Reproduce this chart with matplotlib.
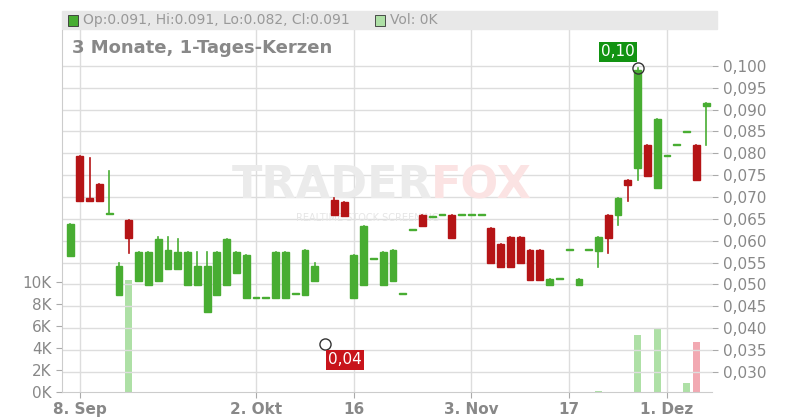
import matplotlib
matplotlib.use("Agg")
import matplotlib.pyplot as plt
from matplotlib.patches import Rectangle
import numpy as np

# trading-day index (0 = 8 Sep), open, high, low, close
idx = list(range(-1, 25)) + list(range(26, 65))
opens = [0.0566,0.0794,0.0698,0.0730,0.0662,0.0477,0.0648,0.0507,0.0498,0.0507,0.0536,0.0536,0.0498,0.0498,0.0436,0.0477,0.0498,0.0527,0.0468,0.0469,0.0469,0.0468,0.0468,0.0478,0.0477,0.0507,
         0.0694,0.0689,0.0468,0.0498,0.0558,0.0498,0.0507,0.0478,0.0624,0.0659,0.0654,0.0659,0.0659,0.0659,0.0659,0.0659,0.0629,0.0593,0.0609,0.0609,0.0579,0.0579,0.0498,0.0512,0.0578,0.0498,0.0578,0.0577,0.0659,0.0658,0.0739,0.0767,0.0819,0.0721,0.0793,0.0818,0.0848,0.0819,0.0909]
closes = [0.0639,0.0692,0.0692,0.0692,0.0662,0.0543,0.0607,0.0575,0.0575,0.0604,0.0579,0.0575,0.0575,0.0543,0.0543,0.0575,0.0604,0.0575,0.0568,0.0469,0.0469,0.0575,0.0575,0.0478,0.0579,0.0543,
          0.0658,0.0656,0.0568,0.0634,0.0558,0.0575,0.0579,0.0478,0.0624,0.0633,0.0654,0.0659,0.0607,0.0659,0.0659,0.0659,0.0548,0.0541,0.0541,0.0548,0.0511,0.0511,0.0512,0.0512,0.0578,0.0512,0.0578,0.0609,0.0607,0.0698,0.0728,0.0991,0.0747,0.0879,0.0793,0.0818,0.0848,0.0738,0.0914]
highs = [0.0639,0.0794,0.0790,0.0730,0.0760,0.0549,0.0648,0.0575,0.0575,0.0609,0.0609,0.0604,0.0575,0.0575,0.0575,0.0575,0.0604,0.0575,0.0568,0.0469,0.0469,0.0575,0.0575,0.0478,0.0579,0.0549,
         0.0698,0.0689,0.0568,0.0634,0.0558,0.0575,0.0579,0.0478,0.0624,0.0659,0.0654,0.0659,0.0659,0.0659,0.0659,0.0659,0.0629,0.0593,0.0609,0.0609,0.0579,0.0579,0.0512,0.0512,0.0578,0.0512,0.0578,0.0609,0.0659,0.0698,0.0739,0.0995,0.0819,0.0879,0.0793,0.0818,0.0848,0.0819,0.0914]
lows = [0.0566,0.0692,0.0692,0.0692,0.0662,0.0477,0.0573,0.0507,0.0498,0.0507,0.0536,0.0536,0.0498,0.0498,0.0436,0.0477,0.0498,0.0527,0.0468,0.0469,0.0469,0.0468,0.0468,0.0478,0.0477,0.0507,
        0.0658,0.0656,0.0468,0.0498,0.0558,0.0498,0.0507,0.0478,0.0624,0.0633,0.0654,0.0659,0.0607,0.0659,0.0659,0.0659,0.0548,0.0541,0.0541,0.0548,0.0511,0.0511,0.0498,0.0512,0.0578,0.0498,0.0578,0.0541,0.0573,0.0636,0.0692,0.0740,0.0747,0.0721,0.0793,0.0818,0.0848,0.0738,0.0818]
vol_idx = [5, 53, 57, 59, 62, 63]
vol_vals = [10200, 100, 5200, 5800, 800, 4500]
vol_up = [True, True, True, True, True, False]
tick_pos = [0, 18, 28, 40, 50, 60]
tick_labels = ["8. Sep", "2. Okt", "16", "3. Nov", "17", "1. Dez"]
price_ticks = [0.030,0.035,0.040,0.045,0.050,0.055,0.060,0.065,0.070,0.075,0.080,0.085,0.090,0.095,0.100]
vol_ticks = [0,2000,4000,6000,8000,10000]

GREEN = "#48ad32"; RED = "#b51416"
fig = plt.figure(figsize=(8,4.2), dpi=100)
L, R, B, T = 62/800, 712/800, 28/420, 390/420
ax = fig.add_axes([L, B, R-L, T-B])
ax2 = ax.twinx()
ax.set_xlim(-1.83, 64.6)
ax.set_ylim(0.0254, 0.1082)
for a in (ax, ax2):
    for s in a.spines.values(): s.set_visible(False)
ax.spines['left'].set_visible(True); ax.spines['left'].set_color("#cccccc")
ax.spines['bottom'].set_visible(True); ax.spines['bottom'].set_color("#cccccc")
for p in price_ticks:
    ax.axhline(p, color="#dddddd", lw=1, zorder=0)
for t in tick_pos:
    ax.axvline(t, color="#dddddd", lw=1, zorder=0)

ax2.set_ylim(0, 32900)
ax2.set_yticks(vol_ticks)
ax2.set_yticklabels([f"{v//1000}K" for v in vol_ticks], color="#888888", fontsize=11)
ax2.yaxis.tick_left()
ax2.tick_params(axis='y', length=4, color="#aaaaaa")
for i, v, up in zip(vol_idx, vol_vals, vol_up):
    ax2.bar(i, v, width=0.7, color="#aee0a6" if up else "#f2a9b2", zorder=1)

ax.yaxis.tick_right()
ax.set_yticks(price_ticks)
ax.set_yticklabels([f"{p:.3f}".replace(".", ",") for p in price_ticks], color="#888888", fontsize=11)
ax.tick_params(axis='y', length=4, color="#aaaaaa", pad=4, left=False, labelleft=False, right=True, labelright=True)
ax.set_xticks(tick_pos)
ax.set_xticklabels(tick_labels, color="#888888", fontsize=11, fontweight="bold")
ax.tick_params(axis='x', length=4, color="#aaaaaa")
ax.set_zorder(ax2.get_zorder()+1); ax.patch.set_visible(False)

w = 0.7
for i, o, h, l, c in zip(idx, opens, highs, lows, closes):
    col = GREEN if c >= o else RED
    ax.plot([i, i], [l, h], color=col, lw=1.2, zorder=3)
    lo, hi = min(o, c), max(o, c)
    ax.add_patch(Rectangle((i-w/2, lo), w, max(hi-lo, 0.00025), color=col, zorder=4))

ax.text(0.415, 0.57, "TRADER", transform=ax.transAxes, ha="center", va="center", fontsize=32, fontweight="bold", color="#ebebeb", zorder=2)
ax.text(0.645, 0.57, "FOX", transform=ax.transAxes, ha="center", va="center", fontsize=32, fontweight="bold", color="#fbe3e3", zorder=2)
ax.text(0.47, 0.48, "REALTIME STOCK SCREENING", transform=ax.transAxes, ha="center", va="center", fontsize=7, color="#e6e6e6", zorder=2)

# annotations
ax.plot(57, 0.0995, marker="o", ms=8, mfc="none", mec="#333333", zorder=6)
ax.text(56.7, 0.1015, "0,10", color="white", fontsize=11, ha="right", va="bottom", bbox=dict(boxstyle="square,pad=0.15", fc="#129312", ec="none"), zorder=7)
ax.plot(25, 0.0364, marker="o", ms=8, mfc="none", mec="#333333", zorder=6)
ax.text(25.4, 0.0345, "0,04", color="white", fontsize=11, ha="left", va="top", bbox=dict(boxstyle="square,pad=0.15", fc="#c8141b", ec="none"), zorder=7)

# header
fig.patches.append(Rectangle((62/800, 391/420), 655/800, 18/420, transform=fig.transFigure, color="#e8e8e8", zorder=0))
fig.patches.append(Rectangle((68/800, 394/420), 10/800, 11/420, transform=fig.transFigure, fc="#48ad32", ec="#333333", lw=0.6))
fig.text(83/800, 400/420, "Op:0.091, Hi:0.091, Lo:0.082, Cl:0.091", fontsize=10, color="#999999", va="center")
fig.patches.append(Rectangle((375/800, 394/420), 10/800, 11/420, transform=fig.transFigure, fc="#aee0a6", ec="#333333", lw=0.6))
fig.text(390/800, 400/420, "Vol: 0K", fontsize=10, color="#999999", va="center")
fig.text(72/800, 372/420, "3 Monate, 1-Tages-Kerzen", fontsize=13, color="#888888", fontweight="bold", va="center")

fig.savefig("out.png", dpi=100)
